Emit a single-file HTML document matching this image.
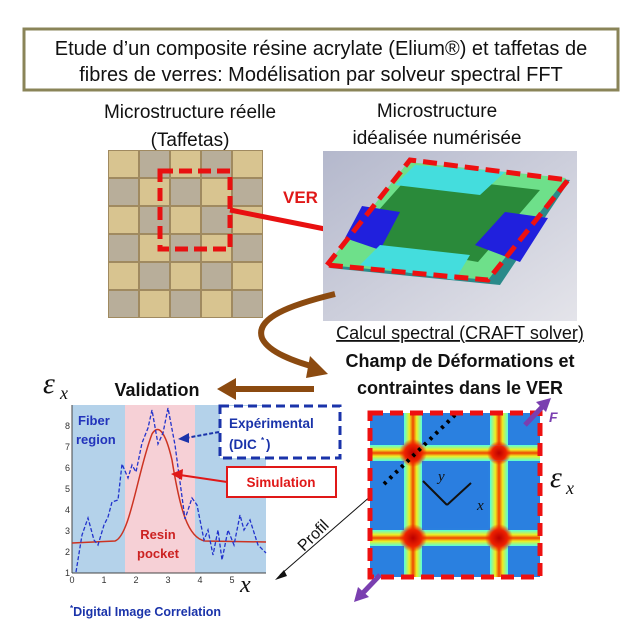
<!DOCTYPE html>
<html><head><meta charset="utf-8"><style>
html,body{margin:0;padding:0;background:#fff;}
svg{display:block;font-family:"Liberation Sans","DejaVu Sans",sans-serif;}
</style></head><body>
<svg width="642" height="631" viewBox="0 0 642 631" xmlns="http://www.w3.org/2000/svg">
<defs>
<pattern id="weave" x="108" y="150" width="62" height="56" patternUnits="userSpaceOnUse">
<rect width="62" height="56" fill="#a08a60"/>
<rect x="1" y="1" width="29" height="26" fill="#d8c490"/>
<rect x="32" y="1" width="29" height="26" fill="#b8ae9a"/>
<rect x="1" y="29" width="29" height="26" fill="#b8ae9a"/>
<rect x="32" y="29" width="29" height="26" fill="#d8c490"/>
</pattern>
<linearGradient id="bgG" x1="0" y1="0" x2="1" y2="1"><stop offset="0" stop-color="#b4b8cc"/><stop offset="1" stop-color="#e4e4ea"/></linearGradient>
<linearGradient id="vb" x1="0" x2="1"><stop offset="0" stop-color="#5fd"/><stop offset=".3" stop-color="#ee2"/><stop offset=".5" stop-color="#e40"/><stop offset=".7" stop-color="#ee2"/><stop offset="1" stop-color="#5fd"/></linearGradient>
<linearGradient id="hb" x1="0" y1="0" x2="0" y2="1"><stop offset="0" stop-color="#5fd"/><stop offset=".3" stop-color="#ee2"/><stop offset=".5" stop-color="#e40"/><stop offset=".7" stop-color="#ee2"/><stop offset="1" stop-color="#5fd"/></linearGradient>
<radialGradient id="hot"><stop offset="0" stop-color="#b00"/><stop offset=".6" stop-color="#e20"/><stop offset="1" stop-color="#e20" stop-opacity="0"/></radialGradient>
</defs>

<rect x="24" y="29" width="594" height="61" fill="#fff" stroke="#8a8458" stroke-width="3"/>
<text x="321" y="55" font-size="20" text-anchor="middle" fill="#111">Etude d’un composite résine acrylate (Elium®) et taffetas de</text>
<text x="321" y="81" font-size="20" text-anchor="middle" fill="#111">fibres de verres: Modélisation par solveur spectral FFT</text>

<text x="190" y="118" font-size="19" text-anchor="middle" fill="#111">Microstructure réelle</text>
<text x="190" y="146" font-size="19" text-anchor="middle" fill="#111">(Taffetas)</text>
<text x="437" y="117" font-size="19" text-anchor="middle" fill="#111">Microstructure</text>
<text x="437" y="144" font-size="19" text-anchor="middle" fill="#111">idéalisée numérisée</text>

<rect x="108" y="150" width="155" height="168" fill="url(#weave)"/>
<rect x="160" y="171" width="70" height="78" fill="none" stroke="#e81010" stroke-width="5" stroke-dasharray="13,6"/>
<text x="283" y="203" font-size="17" font-weight="bold" fill="#e01818">VER</text>
<line x1="230" y1="210" x2="340" y2="232" stroke="#e81010" stroke-width="5"/>
<polygon points="352,235 334,222 331,242" fill="#e81010"/>

<rect x="323" y="151" width="254" height="170" fill="url(#bgG)"/>
<polygon points="330,268 412,163 570,180 500,285" fill="#2a8a8a"/>
<polygon points="327,265 408,162 566,178 488,280" fill="#6ee08a"/>
<polygon points="352,240 410,175 540,190 478,262" fill="#2a8a3a"/>
<polygon points="345,238 362,206 400,212 380,250" fill="#2020dd"/>
<polygon points="475,245 505,212 548,218 520,262" fill="#2020dd"/>
<polygon points="395,185 415,165 505,172 480,195" fill="#44dddd"/>
<polygon points="360,265 380,245 470,255 455,280" fill="#44dddd"/>
<polygon points="327,265 410,160 568,180 488,280" fill="none" stroke="#ee1010" stroke-width="5" stroke-dasharray="14,7"/>

<path d="M335,294 C290,305 255,318 262,338 C268,352 295,362 318,368" fill="none" stroke="#8b4a10" stroke-width="6"/>
<polygon points="328,374 310,356 306,378" fill="#8b4a10"/>

<text x="460" y="339" font-size="18" text-anchor="middle" fill="#111" text-decoration="underline">Calcul spectral (CRAFT solver)</text>
<text x="460" y="367" font-size="18" font-weight="bold" text-anchor="middle" fill="#111">Champ de Déformations et</text>
<text x="460" y="394" font-size="18" font-weight="bold" text-anchor="middle" fill="#111">contraintes dans le VER</text>

<text x="157" y="396" font-size="18" font-weight="bold" text-anchor="middle" fill="#111">Validation</text>
<line x1="314" y1="389" x2="232" y2="389" stroke="#8b4a10" stroke-width="6"/>
<polygon points="217,389 236,378 236,400" fill="#8b4a10"/>
<text x="43" y="393" font-size="30" font-style="italic" font-family="Liberation Serif,serif" fill="#111">ε</text>
<text x="60" y="399" font-size="18" font-style="italic" font-family="Liberation Serif,serif" fill="#111">x</text>

<rect x="72" y="405" width="53" height="168" fill="#b4d2ea"/>
<rect x="125" y="405" width="70" height="168" fill="#f6d0d6"/>
<rect x="195" y="405" width="71" height="168" fill="#b4d2ea"/>
<line x1="72" y1="405" x2="72" y2="573" stroke="#444"/>
<line x1="72" y1="573" x2="266" y2="573" stroke="#444"/>
<g font-size="9" fill="#333" text-anchor="end">
<text x="70" y="576">1</text><text x="70" y="555">2</text><text x="70" y="534">3</text><text x="70" y="513">4</text><text x="70" y="492">5</text><text x="70" y="471">6</text><text x="70" y="450">7</text><text x="70" y="429">8</text></g>
<g font-size="9" fill="#333" text-anchor="middle">
<text x="72" y="583">0</text><text x="104" y="583">1</text><text x="136" y="583">2</text><text x="168" y="583">3</text><text x="200" y="583">4</text><text x="232" y="583">5</text></g>
<text x="78" y="425" font-size="13" font-weight="bold" fill="#2233bb">Fiber</text>
<text x="76" y="444" font-size="13" font-weight="bold" fill="#2233bb">region</text>
<text x="158" y="539" font-size="13" font-weight="bold" fill="#cc2222" text-anchor="middle">Resin</text>
<text x="158" y="558" font-size="13" font-weight="bold" fill="#cc2222" text-anchor="middle">pocket</text>
<path d="M72,543 L115,541 C130,536 138,470 152,434 C158,424 165,430 172,460 C180,510 188,538 205,541 L266,542" fill="none" stroke="#cc3322" stroke-width="1.5"/>
<path d="M76,572 L82,535 L88,518 L94,540 L98,545 L104,525 L108,517 L112,502 L118,500 L122,464 L128,478 L132,465 L136,472 L142,443 L148,428 L152,410 L158,444 L163,433 L168,408 L175,445 L185,519 L192,498 L197,505 L204,540 L208,530 L213,555 L218,530 L222,560 L228,530 L234,545 L240,515 L244,530 L250,520 L258,545 L266,553" fill="none" stroke="#2233cc" stroke-width="1.3" stroke-dasharray="4,2"/>
<text x="240" y="592" font-size="24" font-style="italic" font-family="Liberation Serif,serif" fill="#111">x</text>

<rect x="220" y="406" width="120" height="52" fill="#fff" stroke="#1a33aa" stroke-width="3" stroke-dasharray="9,5"/>
<text x="229" y="428" font-size="13.5" font-weight="bold" fill="#1a33aa">Expérimental</text>
<text x="229" y="449" font-size="13.5" font-weight="bold" fill="#1a33aa">(DIC</text><text x="261" y="443" font-size="8" font-weight="bold" fill="#1a33aa">*</text><text x="266" y="449" font-size="13.5" font-weight="bold" fill="#1a33aa">)</text>
<line x1="219" y1="432" x2="186" y2="438" stroke="#1a33aa" stroke-width="2" stroke-dasharray="4,2"/>
<polygon points="178,439 189,433 189,443" fill="#1a33aa"/>
<rect x="227" y="467" width="109" height="30" fill="#fff" stroke="#e01818" stroke-width="2"/>
<text x="281" y="487" font-size="13.5" font-weight="bold" fill="#e01818" text-anchor="middle">Simulation</text>
<line x1="227" y1="482" x2="180" y2="475" stroke="#e01818" stroke-width="2"/>
<polygon points="171,474 183,469 182,480" fill="#e01818"/>
<text x="70" y="616" font-size="12.5" font-weight="bold" fill="#1a33aa"><tspan font-size="8" dy="-5">*</tspan><tspan dy="5">Digital Image Correlation</tspan></text>

<line x1="372" y1="495" x2="280" y2="575" stroke="#111" stroke-width="1"/>
<polygon points="275,580 284,570 287,576" fill="#111"/>
<text x="0" y="0" font-size="16" fill="#111" transform="translate(304,552) rotate(-45)">Profil</text>

<rect x="370" y="413" width="170" height="164" fill="#2a80e0"/>
<rect x="404" y="413" width="18" height="164" fill="url(#vb)"/>
<rect x="490" y="413" width="18" height="164" fill="url(#vb)"/>
<rect x="370" y="445" width="170" height="16" fill="url(#hb)"/>
<rect x="370" y="530" width="170" height="16" fill="url(#hb)"/>
<circle cx="413" cy="453" r="14" fill="url(#hot)"/>
<circle cx="499" cy="453" r="12" fill="url(#hot)"/>
<circle cx="413" cy="538" r="14" fill="url(#hot)"/>
<circle cx="499" cy="538" r="14" fill="url(#hot)"/>
<rect x="424" y="463" width="64" height="65" fill="#2a7ee0"/>
<line x1="455" y1="415" x2="382" y2="486" stroke="#000" stroke-width="4" stroke-dasharray="3,5"/>
<line x1="447" y1="505" x2="423" y2="481" stroke="#111" stroke-width="2"/>
<line x1="447" y1="505" x2="471" y2="483" stroke="#111" stroke-width="2"/>
<text x="438" y="481" font-size="15" font-style="italic" font-family="Liberation Serif,serif" fill="#111">y</text>
<text x="477" y="510" font-size="15" font-style="italic" font-family="Liberation Serif,serif" fill="#111">x</text>
<rect x="370" y="413" width="170" height="164" fill="none" stroke="#ee1010" stroke-width="5" stroke-dasharray="13,7"/>
<line x1="525" y1="425" x2="545" y2="404" stroke="#7a3fb0" stroke-width="5"/>
<polygon points="551,398 536,402 546,412" fill="#7a3fb0"/>
<line x1="380" y1="575" x2="360" y2="596" stroke="#7a3fb0" stroke-width="5"/>
<polygon points="354,602 358,587 369,597" fill="#7a3fb0"/>
<text x="549" y="422" font-size="14" font-weight="bold" font-style="italic" fill="#7a3fb0">F</text>
<text x="550" y="487" font-size="30" font-style="italic" font-family="Liberation Serif,serif" fill="#111">ε</text>
<text x="566" y="494" font-size="18" font-style="italic" font-family="Liberation Serif,serif" fill="#111">x</text>
</svg>
</body></html>
